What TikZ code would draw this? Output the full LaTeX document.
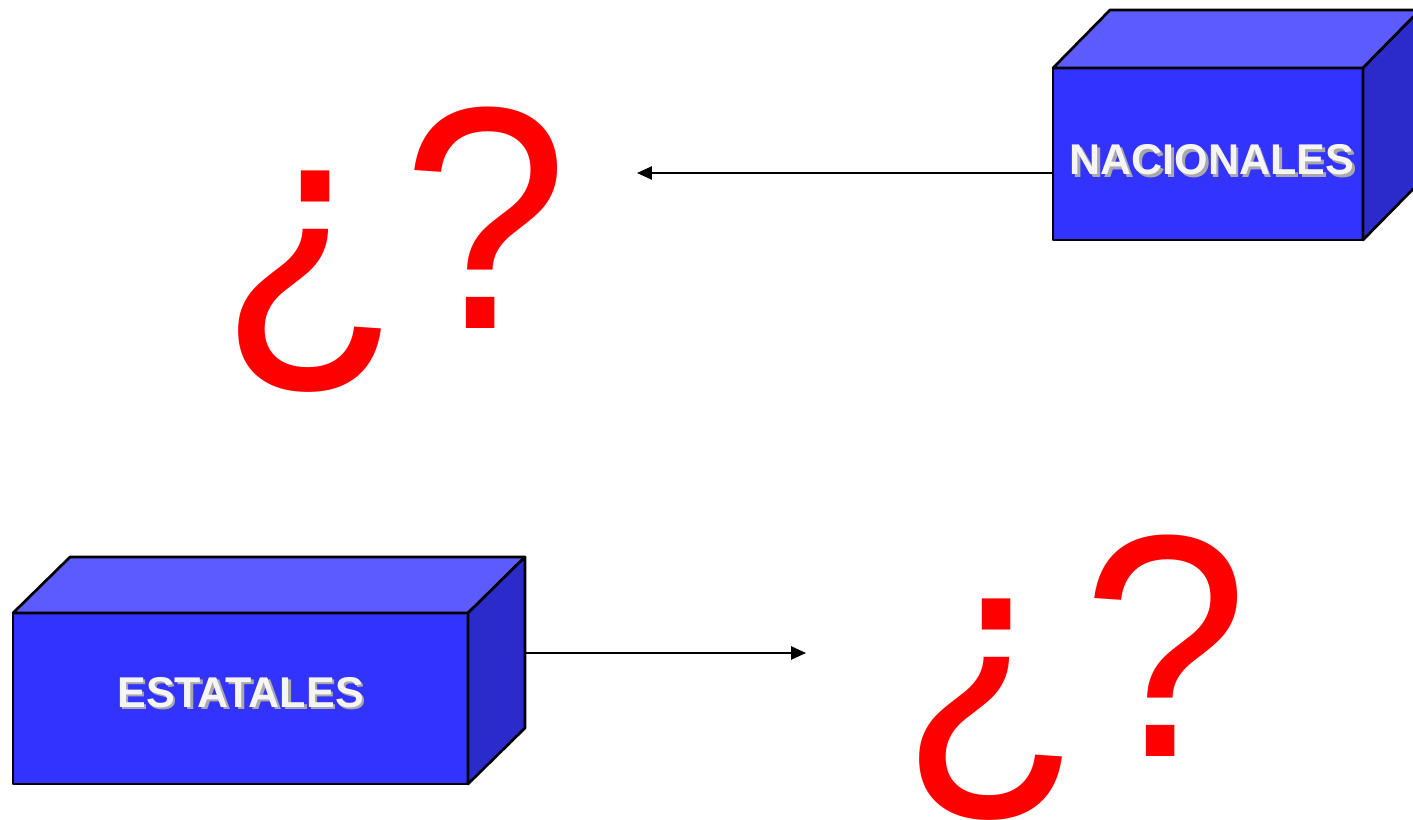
\documentclass[tikz,border=0pt]{standalone}
\usepackage{fontspec}
\setmainfont{Liberation Sans}
\usetikzlibrary{arrows.meta,calc}

\definecolor{caraFrente}{HTML}{3333FF}
\definecolor{caraArriba}{HTML}{5B5BFF}
\definecolor{caraLado}{HTML}{2B2BCC}
\definecolor{sombraTxt}{HTML}{A8A8A8}

% white label with a soft grey drop shadow
\newcommand{\txtsombra}[1]{\leavevmode\rlap{\hspace{1.4pt}\raisebox{-1.4pt}{\color{sombraTxt}#1}}{\color{white!96!black}#1}}
% the pair of question marks, a bit taller than the plain glyphs
\newcommand{\pregunta}{\scalebox{1}[1.062]{\raisebox{-5.5pt}{¿}?}}

\begin{document}
\begin{tikzpicture}[
  % Box faces
  frente/.style={draw, line width=1.5pt, line join=round, fill=caraFrente, inner sep=0pt, outer sep=0pt},
  arriba/.style={draw, line width=1.5pt, fill=caraArriba, line join=round},
  lado/.style={draw, line width=1.5pt, fill=caraLado, line join=round},
  % Box labels
  rotulo/.style={inner sep=0pt, font=\fontsize{24.5}{28}\selectfont\bfseries},
  % Question marks
  duda/.style={text=red, inner sep=0pt, anchor=base, font=\fontsize{170}{170}\selectfont},
  % Arrow style
  flecha/.style={-{Triangle[length=8.5pt, width=7.5pt]}, line width=1.1pt, black},
]
\useasboundingbox (0,0) rectangle (28.26,-16.4);

% === Top: NACIONALES ===
\node[frente, minimum width=6.2cm, minimum height=3.44cm] (nac) at (24.16,-3.08) {};
\draw[arriba] (nac.north west) -- ++(1.14,1.16) -- ++(6.2,0) -- (nac.north east) -- cycle;
\draw[lado] (nac.north east) -- ++(1.14,1.16) -- ++(0,-3.44) -- (nac.south east) -- cycle;
\node[rotulo] (nacTxt) at ($(nac.center)+(0.08,-0.14)$) {\txtsombra{NACIONALES}};

\node[duda] (dudaA) at (7.88,-6.56) {\pregunta};

\coordinate (finA) at (12.74,-3.46);
\draw[flecha] (nac.west |- finA) -- (finA);

% === Bottom: ESTATALES ===
\node[frente, minimum width=9.1cm, minimum height=3.42cm] (est) at (4.81,-13.97) {};
\draw[arriba] (est.north west) -- ++(1.14,1.12) -- ++(9.1,0) -- (est.north east) -- cycle;
\draw[lado] (est.north east) -- ++(1.14,1.12) -- ++(0,-3.42) -- (est.south east) -- cycle;
\node[rotulo] (estTxt) at ($(est.center)+(0,0.1)$) {\txtsombra{ESTATALES}};

\node[duda] (dudaB) at (21.49,-15.12) {\pregunta};

\coordinate (estR) at ($(est.east)+(1.14,0)$);
\coordinate (finB) at (16.12,-13.06);
\draw[flecha] (estR |- finB) -- (finB);

\end{tikzpicture}
\end{document}
